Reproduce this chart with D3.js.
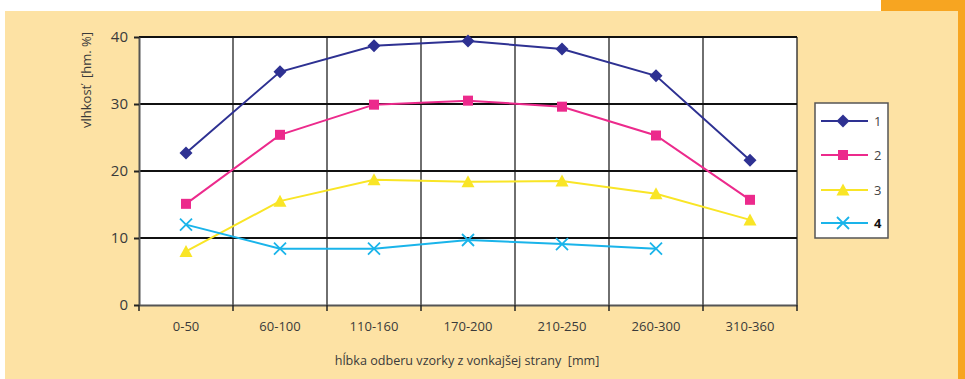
<!DOCTYPE html>
<html><head><meta charset="utf-8">
<script src="https://cdn.jsdelivr.net/npm/d3@7"></script>
<style>html,body{margin:0;padding:0;background:#fff;}svg{display:block;}</style>
</head><body>
<script>
const categories = ["0-50","60-100","110-160","170-200","210-250","260-300","310-360"];
const series1 = [22.7, 34.8, 38.7, 39.4, 38.2, 34.2, 21.6];
const series2 = [15.1, 25.4, 29.9, 30.5, 29.6, 25.3, 15.7];
const series3 = [8.0, 15.5, 18.7, 18.4, 18.5, 16.6, 12.7];
const series4 = [12.0, 8.4, 8.4, 9.7, 9.1, 8.4, null];
const seriesNames = ["1","2","3","4"];
const yTicks = [0,10,20,30,40];
const yTitle = "vlhkosť  [hm. %]";
const xTitle = "hĺbka odberu vzorky z vonkajšej strany  [mm]";

const W = 965, H = 379;
const font = "'Open Sans', sans-serif";
const svg = d3.select("body").append("svg").attr("width", W).attr("height", H);

// background
svg.append("rect").attr("x",0).attr("y",0).attr("width",W).attr("height",H).attr("fill","#fff");
svg.append("rect").attr("x",881).attr("y",0).attr("width",84).attr("height",H).attr("fill","#F7A521");
svg.append("rect").attr("x",5).attr("y",11).attr("width",953).attr("height",H-11).attr("fill","#FDE2A4");

const L = 139, R = 797, T = 37, B = 305;
const x = d3.scaleBand().domain(categories).range([L,R]);
const y = d3.scaleLinear().domain([0,40]).range([B,T]);

svg.append("rect").attr("x",L).attr("y",T).attr("width",R-L).attr("height",B-T).attr("fill","#fff");

// vertical gridlines at category boundaries
const bounds = categories.map(c=>x(c)).concat([R]);
svg.append("g").selectAll("line").data(bounds.slice(1)).join("line")
  .attr("x1",d=>d).attr("x2",d=>d).attr("y1",T).attr("y2",B)
  .attr("stroke","#222").attr("stroke-width",1.3);
// horizontal gridlines
svg.append("g").selectAll("line").data(yTicks.slice(1)).join("line")
  .attr("x1",L).attr("x2",R).attr("y1",d=>y(d)).attr("y2",d=>y(d))
  .attr("stroke","#111").attr("stroke-width",2);

// y axis
const yAxis = svg.append("g").attr("transform",`translate(${L},0)`)
  .call(d3.axisLeft(y).tickValues(yTicks).tickSize(5).tickPadding(6).tickSizeOuter(0));
yAxis.select(".domain").attr("stroke","#555").attr("stroke-width",2);
yAxis.selectAll(".tick line").attr("stroke","#222").attr("stroke-width",2);
yAxis.selectAll("text").attr("font-family",font).attr("font-size",15).attr("fill","#3a3a3a");

// x axis
const xAxis = svg.append("g").attr("transform",`translate(0,${B})`)
  .call(d3.axisBottom(x).tickSize(0).tickPadding(17));
xAxis.select(".domain").attr("stroke","#555").attr("stroke-width",2);
xAxis.selectAll("text").attr("font-family",font).attr("font-size",13).attr("fill","#3a3a3a");
svg.append("g").selectAll("line").data(bounds).join("line")
  .attr("x1",d=>d).attr("x2",d=>d).attr("y1",B).attr("y2",B+6)
  .attr("stroke","#222").attr("stroke-width",1.5);

// titles
svg.append("text").attr("transform","translate(91,80) rotate(-90)").attr("text-anchor","middle")
  .attr("font-family",font).attr("font-size",13).attr("fill","#3a3a3a").attr("xml:space","preserve").text(yTitle);
svg.append("text").attr("x",467).attr("y",365).attr("text-anchor","middle")
  .attr("font-family",font).attr("font-size",12.6).attr("fill","#3a3a3a").attr("xml:space","preserve").text(xTitle);

const colors = ["#2E3192","#EC2A8C","#F9E526","#1AB4EA"];
const markers = ["diamond","square","triangle","cross"];
function drawMarker(g, type, cx, cy, color){
  if(type==="diamond") g.append("path").attr("d",`M${cx},${cy-6.5}L${cx+6.5},${cy}L${cx},${cy+6.5}L${cx-6.5},${cy}Z`).attr("fill",color);
  else if(type==="square") g.append("rect").attr("x",cx-5).attr("y",cy-5).attr("width",10).attr("height",10).attr("fill",color);
  else if(type==="triangle") g.append("path").attr("d",`M${cx},${cy-6.5}L${cx+6.5},${cy+5.5}L${cx-6.5},${cy+5.5}Z`).attr("fill",color);
  else g.append("path").attr("d",`M${cx-6},${cy-6}L${cx+6},${cy+6}M${cx+6},${cy-6}L${cx-6},${cy+6}`).attr("stroke",color).attr("stroke-width",1.8).attr("fill","none");
}
const allSeries = [series1,series2,series3,series4];
const line = d3.line().defined(d=>d.v!=null).x(d=>x(d.c)+x.bandwidth()/2).y(d=>y(d.v));
allSeries.forEach((s,i)=>{
  const data = s.map((v,j)=>({c:categories[j],v}));
  const g = svg.append("g");
  g.append("path").datum(data).attr("d",line).attr("fill","none").attr("stroke",colors[i]).attr("stroke-width",2);
  data.filter(d=>d.v!=null).forEach(d=>drawMarker(g,markers[i],x(d.c)+x.bandwidth()/2,y(d.v),colors[i]));
});

// legend
const lg = svg.append("g");
lg.append("rect").attr("x",815).attr("y",103).attr("width",73).attr("height",135)
  .attr("fill","#fff").attr("stroke","#555").attr("stroke-width",1.5);
const ly = [121,155,190,223];
seriesNames.forEach((n,i)=>{
  lg.append("line").attr("x1",821).attr("x2",868).attr("y1",ly[i]).attr("y2",ly[i]).attr("stroke",colors[i]).attr("stroke-width",2);
  drawMarker(lg,markers[i],843,ly[i],colors[i]);
  lg.append("text").attr("x",874).attr("y",ly[i]+5).attr("font-family",font).attr("font-size",13)
    .attr("font-weight",i===3?"bold":"normal").attr("fill",i===3?"#111":"#444").text(n);
});
</script>
</body></html>
